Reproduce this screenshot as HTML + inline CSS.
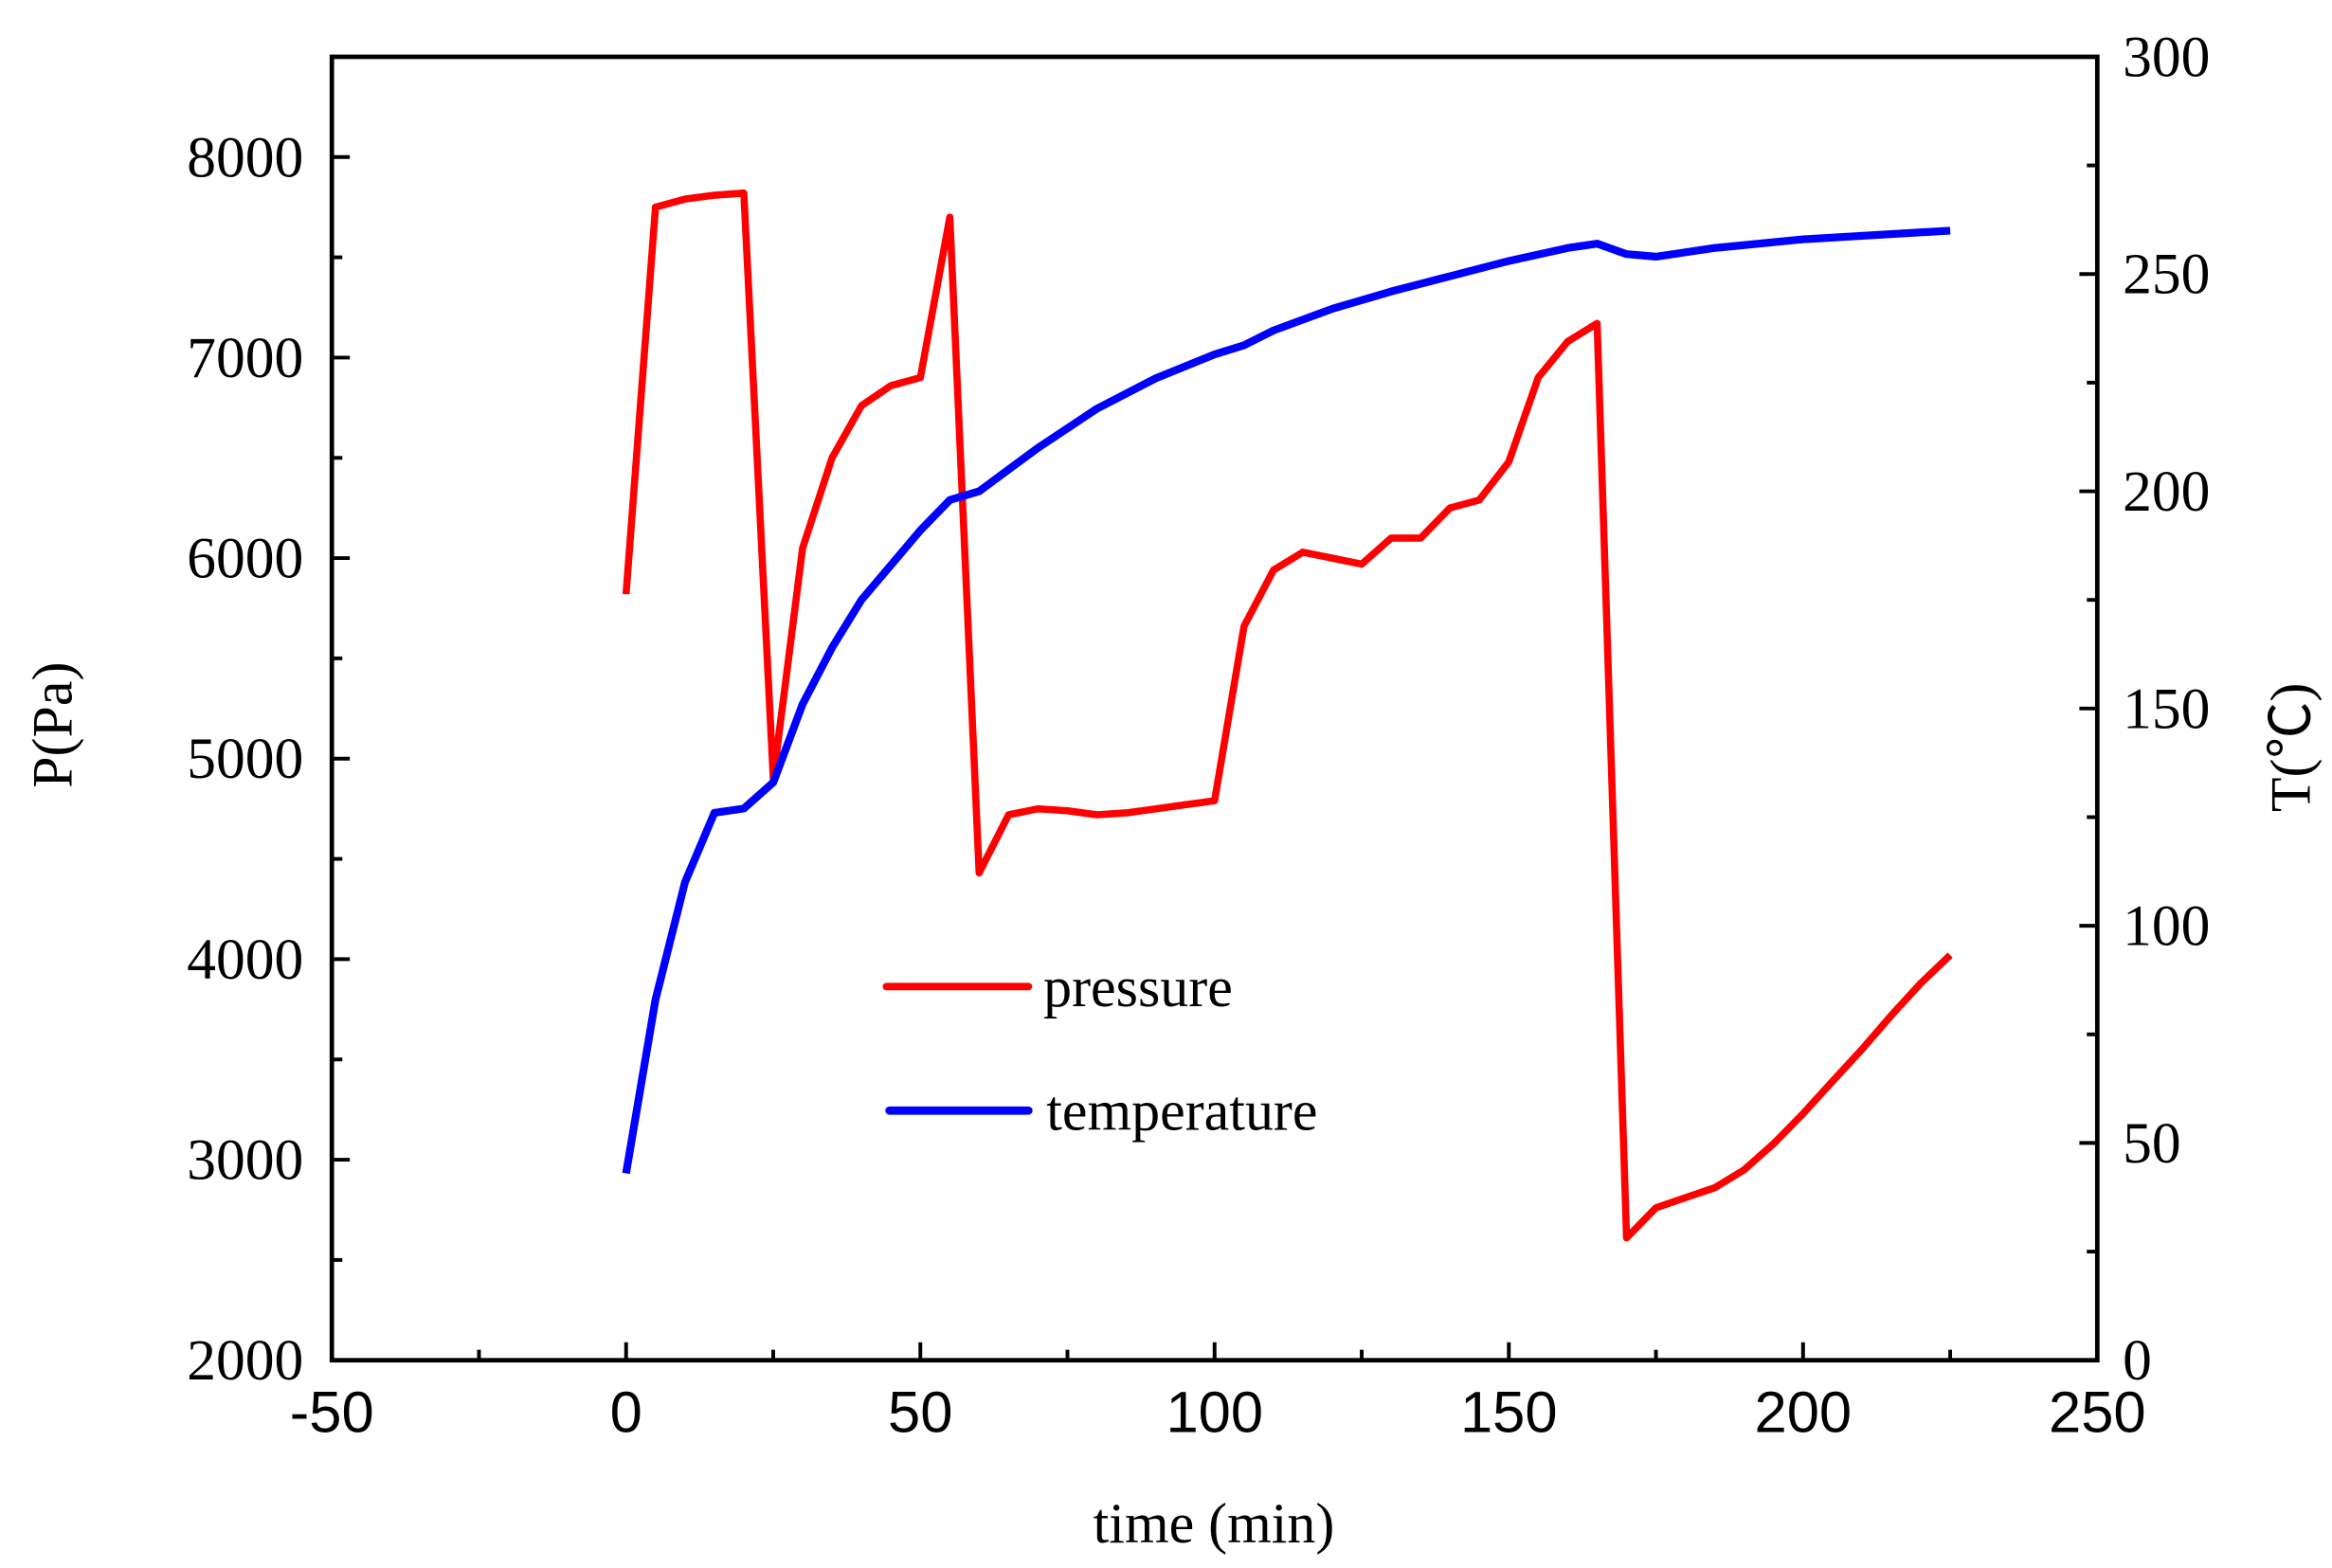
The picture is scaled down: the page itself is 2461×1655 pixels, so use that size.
<!DOCTYPE html>
<html><head><meta charset="utf-8"><style>
html,body{margin:0;padding:0;background:#fff;}
svg{display:block;}
</style></head><body>
<svg id="s" width="2461" height="1655" viewBox="0 0 1560 1049" preserveAspectRatio="none" xmlns="http://www.w3.org/2000/svg">
<rect x="0" y="0" width="1560" height="1049" fill="#fff"/>
<g id="ticks" stroke="#000" stroke-width="2.5"></g>
<rect x="222" y="38" width="1181" height="872" fill="none" stroke="#000" stroke-width="3"/>
<polyline id="pr" fill="none" stroke="#ff0000" stroke-width="4.8" stroke-linejoin="round"/>
<polyline id="tp" fill="none" stroke="#0000ff" stroke-width="5.2" stroke-linejoin="round"/>
<g id="labels"></g>
<line x1="593" y1="660" x2="688" y2="660" stroke="#ff0000" stroke-width="5" stroke-linecap="round"/>
<line x1="595" y1="743" x2="688" y2="743" stroke="#0000ff" stroke-width="5.5" stroke-linecap="round"/>
<text x="698" y="673" font-family="Liberation Serif, serif" font-size="38">pressure</text>
<text x="700" y="756" font-family="Liberation Serif, serif" font-size="38">temperature</text>
<text x="812" y="1032" text-anchor="middle" font-family="Liberation Serif, serif" font-size="38">time (min)</text>
<text transform="translate(48,485) rotate(-90)" text-anchor="middle" font-family="Liberation Serif, serif" font-size="38">P(Pa)</text>
<text transform="translate(1545,500) rotate(-90)" text-anchor="middle" font-family="Liberation Serif, 'Noto Sans CJK SC', serif" font-size="38">T(℃)</text>
</svg>
<script>
var X=function(t){return 222+(t+50)*1181/300;};
var P=function(p){return 910-(p-2000)*872/6500;};
var T=function(v){return 910-v*872/300;};
var pd=[[0,5820],[5,7750],[10,7790],[15,7810],[20,7820],[25,4900],[30,6050],[35,6500],[40,6760],[45,6860],[50,6900],[55,7700],[60,4430],[65,4720],[70,4750],[75,4740],[80,4720],[85,4730],[90,4750],[95,4770],[100,4790],[105,5660],[110,5940],[115,6030],[120,6000],[125,5970],[130,6100],[135,6100],[140,6250],[145,6290],[150,6480],[155,6900],[160,7080],[165,7170],[170,2610],[175,2760],[180,2810],[185,2860],[190,2950],[195,3080],[200,3230],[205,3390],[210,3550],[215,3720],[220,3880],[225,4020]];
var td=[[0,43],[5,83],[10,110],[15,126],[20,127],[25,133],[30,151],[35,164],[40,175],[45,183],[50,191],[55,198],[60,200],[65,205],[70,210],[80,219],[90,226],[100,231.5],[105,233.6],[110,237],[120,242],[130,246],[140,249.5],[150,253],[160,256],[165,257],[170,254.6],[175,254],[185,256],[200,258],[225,260]];
document.getElementById('pr').setAttribute('points',pd.map(function(d){return X(d[0]).toFixed(1)+','+P(d[1]).toFixed(1);}).join(' '));
document.getElementById('tp').setAttribute('points',td.map(function(d){return X(d[0]).toFixed(1)+','+T(d[1]).toFixed(1);}).join(' '));
var ns='http://www.w3.org/2000/svg',tk=document.getElementById('ticks'),lb=document.getElementById('labels');
function ln(a,b,c,d){var l=document.createElementNS(ns,'line');l.setAttribute('x1',a);l.setAttribute('y1',b);l.setAttribute('x2',c);l.setAttribute('y2',d);tk.appendChild(l);}
function tx(x,y,s,anc,fam){var t=document.createElementNS(ns,'text');t.setAttribute('x',x);t.setAttribute('y',y);t.setAttribute('text-anchor',anc);t.setAttribute('font-family',fam);t.setAttribute('font-size','39');t.textContent=s;lb.appendChild(t);}
for(var p=2000;p<=8500;p+=500){var y=P(p),maj=p%1000==0;ln(222,y,222+(maj?12:7),y);if(maj)tx(203,y+13,String(p),'end','Liberation Serif, serif');}
for(var v=0;v<=300;v+=25){var y=T(v),maj=v%50==0;ln(1403,y,1403-(maj?12:7),y);if(maj)tx(1420,y+13,String(v),'start','Liberation Serif, serif');}
for(var t=-50;t<=250;t+=25){var x=X(t),maj=t%50==0;ln(x,910,x,910-(maj?12:7));if(maj)tx(x,958,String(t),'middle','Liberation Sans, sans-serif');}
</script>
</body></html>
